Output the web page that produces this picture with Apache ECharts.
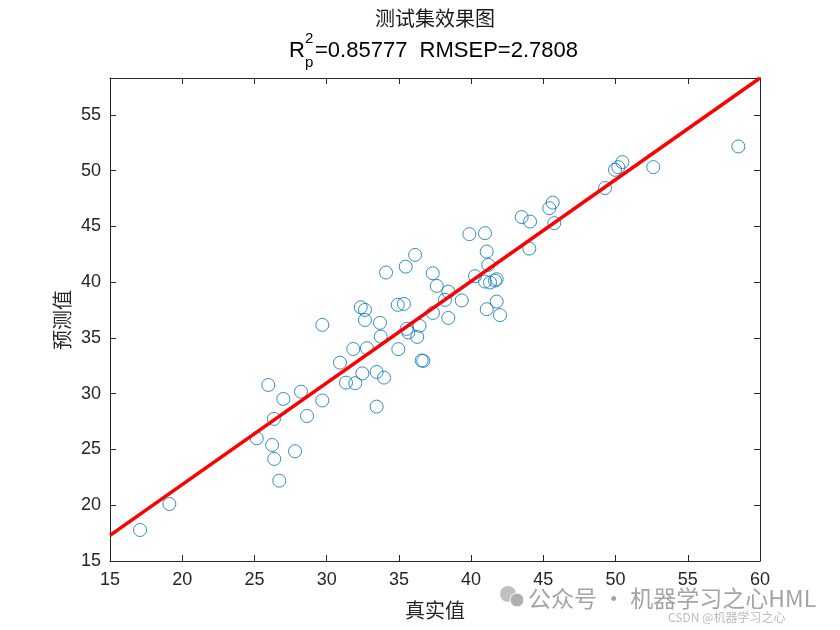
<!DOCTYPE html>
<html>
<head>
<meta charset="utf-8">
<script src="https://cdn.jsdelivr.net/npm/echarts@6/dist/echarts.min.js"></script>
<style>html,body{margin:0;padding:0;background:#fff}#c{width:840px;height:630px}</style>
</head>
<body>
<div id="c"></div>
<script>
// Data
const trueVals = [17.08,19.11,25.16,25.96,26.22,26.35,26.37,26.72,27.00,27.81,28.22,28.64,29.70,29.70,30.92,31.34,31.98,31.84,32.36,32.65,32.65,32.47,32.79,33.46,33.46,33.74,33.69,33.97,34.11,34.96,34.92,35.35,35.47,35.54,35.65,36.12,36.27,36.43,36.58,36.69,37.36,37.34,37.62,38.19,38.42,38.42,39.35,39.88,40.27,40.96,41.08,40.96,41.19,41.08,41.31,41.65,41.77,41.77,42.00,43.50,44.08,44.03,45.41,45.65,45.76,49.27,49.96,50.19,50.47,52.61,58.50];
const predVals = [17.78,20.11,26.00,30.78,25.40,27.74,24.15,22.20,29.53,24.84,30.18,28.00,36.17,29.39,32.78,30.99,30.94,34.01,37.75,37.51,36.61,31.82,34.08,31.95,28.84,35.12,36.35,31.44,40.86,33.99,37.96,38.05,41.39,35.81,35.49,42.44,35.09,36.08,32.98,32.94,37.24,40.80,39.66,38.41,39.15,36.79,38.36,44.30,40.53,44.39,42.74,40.05,41.55,37.57,39.96,40.14,40.26,38.26,37.04,45.83,45.43,43.01,46.63,47.13,45.29,48.43,50.07,50.31,50.76,50.31,52.16];
const fitX = [15, 60];
const fitY = [17.3, 58.3];
const xTicks = [15,20,25,30,35,40,45,50,55,60];
const yTicks = [15,20,25,30,35,40,45,50,55];
const titleMain = '测试集效果图';
const statText = '=0.85777  RMSEP=2.7808';
const xName = '真实值';
const yName = '预测值';

const axisColor = '#262626';
const latin = '"Liberation Sans", Arial, sans-serif';
const cjk = '"Noto Sans CJK SC", sans-serif';

const chart = echarts.init(document.getElementById('c'), null, {renderer:'canvas'});
const scatterData = trueVals.map((v,i)=>[v, predVals[i]]);
const lineData = fitX.map((v,i)=>[v, fitY[i]]);

const baseAxis = {
  axisLine:{show:true, onZero:false, lineStyle:{color:axisColor, width:1}},
  axisTick:{show:true, inside:true, length:6, lineStyle:{color:axisColor, width:1}},
  splitLine:{show:false}
};
const yLabelFmt = v => yTicks.includes(Math.round(v*1000)/1000) ? String(v) : '';

chart.setOption({
  animation:false,
  backgroundColor:'#fff',
  grid:{left:110, right:80, top:78, bottom:69, containLabel:false},
  xAxis:[
    Object.assign({}, baseAxis, {type:'value', position:'bottom', min:15, max:60, interval:5,
      axisLabel:{show:true, margin:10, fontSize:18, color:axisColor, fontFamily:latin}}),
    Object.assign({}, baseAxis, {type:'value', position:'top', min:15, max:60, interval:5,
      axisLabel:{show:false}})
  ],
  yAxis:[
    Object.assign({}, baseAxis, {type:'value', position:'left', min:15, max:58.3, interval:5,
      axisLabel:{show:true, margin:9, fontSize:18, color:axisColor, fontFamily:latin, formatter:yLabelFmt, showMaxLabel:false}}),
    Object.assign({}, baseAxis, {type:'value', position:'right', min:15, max:58.3, interval:5,
      axisLabel:{show:false}})
  ],
  series:[
    {type:'scatter', xAxisIndex:0, yAxisIndex:0, data:scatterData, symbol:'circle', symbolSize:13,
      itemStyle:{color:'rgba(0,0,0,0)', borderColor:'#0072BD', borderWidth:1}, z:2},
    {type:'line', xAxisIndex:0, yAxisIndex:0, data:lineData, showSymbol:false, symbol:'none',
      lineStyle:{color:'#FF0000', width:3.5}, z:3}
  ],
  graphic:[
    {type:'text', x:435, y:18, style:{text:titleMain, font:'20px '+cjk, fill:'#1a1a1a', textAlign:'center', textVerticalAlign:'middle'}},
    {type:'text', x:289, y:51, style:{text:'R', font:'22px '+latin, fill:'#000', textAlign:'left', textVerticalAlign:'middle'}},
    {type:'text', x:305, y:39, style:{text:'2', font:'15px '+latin, fill:'#000', textAlign:'left', textVerticalAlign:'middle'}},
    {type:'text', x:305, y:63, style:{text:'p', font:'15px '+latin, fill:'#000', textAlign:'left', textVerticalAlign:'middle'}},
    {type:'text', x:315, y:51, style:{text:statText, font:'22px '+latin, fill:'#000', textAlign:'left', textVerticalAlign:'middle'}},
    {type:'text', x:435, y:610, style:{text:xName, font:'20px '+cjk, fill:'#262626', textAlign:'center', textVerticalAlign:'middle'}},
    {type:'text', x:62, y:320, rotation:Math.PI/2, style:{text:yName, font:'20px '+cjk, fill:'#262626', textAlign:'center', textVerticalAlign:'middle'}},
    // watermark
    {type:'circle', shape:{cx:508, cy:594, r:8}, style:{fill:'#c0c0c0'}},
    {type:'circle', shape:{cx:517, cy:600, r:7}, style:{fill:'#b0b0b0', stroke:'#fff', lineWidth:1}},
    {type:'text', x:528, y:598, style:{text:'公众号 · 机器学习之心HML', font:'23px '+cjk, fill:'rgba(140,140,140,0.8)', textAlign:'left', textVerticalAlign:'middle'}},
    {type:'text', x:668, y:617, style:{text:'CSDN @机器学习之心', font:'12px '+cjk, fill:'rgba(170,170,170,0.8)', textAlign:'left', textVerticalAlign:'middle'}}
  ]
});
</script>
</body>
</html>
